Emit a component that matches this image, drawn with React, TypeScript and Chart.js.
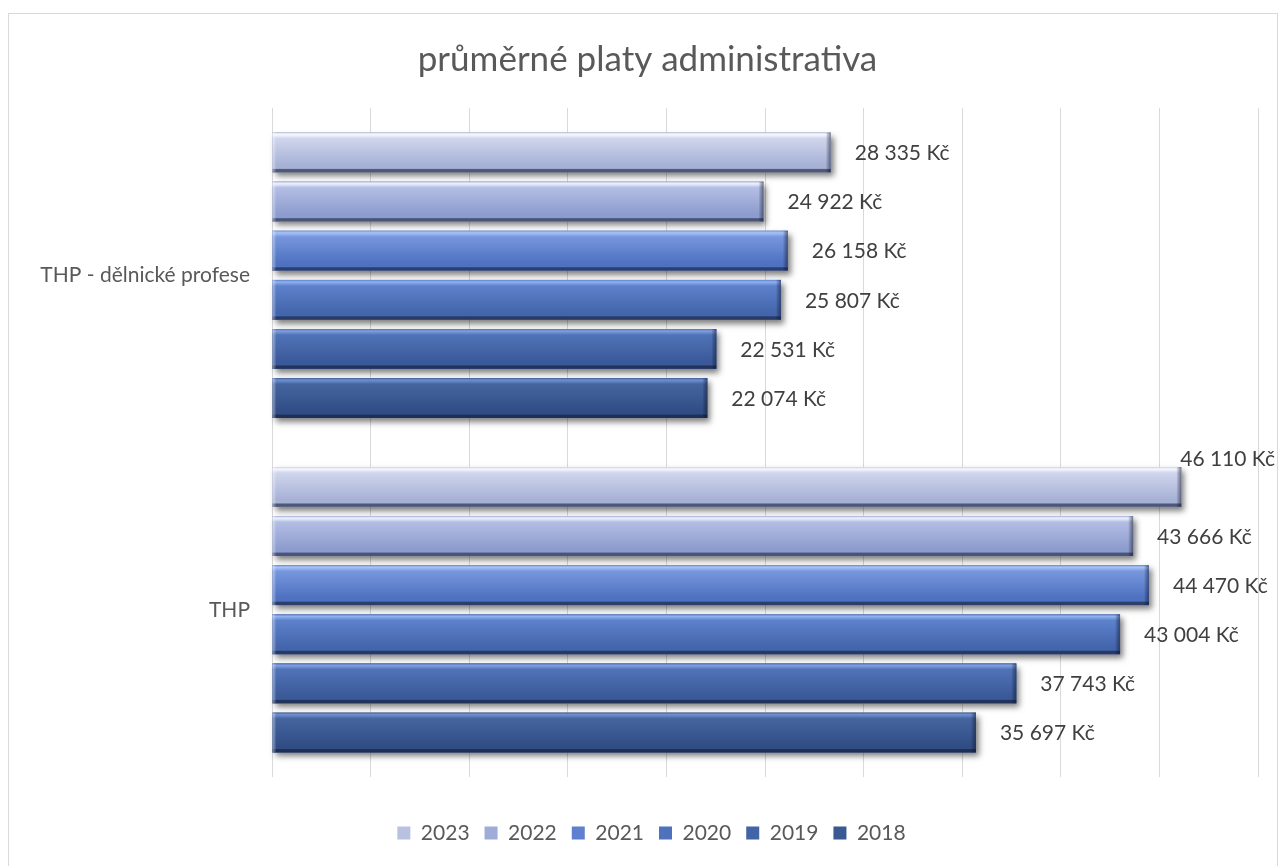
import React, { useEffect, useRef } from "react";
import { Chart, registerables } from "chart.js";

Chart.register(...registerables);

const categories = ["THP - dělnické profese", "THP"];
const years = ["2023", "2022", "2021", "2020", "2019", "2018"];
const v2023 = [28335, 46110];
const v2022 = [24922, 43666];
const v2021 = [26158, 44470];
const v2020 = [25807, 43004];
const v2019 = [22531, 37743];
const v2018 = [22074, 35697];
const seriesValues = [v2023, v2022, v2021, v2020, v2019, v2018];
const axisMax = 50000;
const axisStep = 5000;
const titleText = "průměrné platy administrativa";
const currency = "Kč";

const FONT = "Lato, 'Open Sans', sans-serif";

const styles = [
  { base: "#b9c1e0", hl: "#f6f8ff", top: "#cfd5ec", bot: "#a7b1d6", dark: "#4d5878" },
  { base: "#9fabd9", hl: "#eef2ff", top: "#b3bee4", bot: "#8d9cce", dark: "#48557a" },
  { base: "#5f80cf", hl: "#a9c3f7", top: "#7796dd", bot: "#4e71c0", dark: "#2b3e6d" },
  { base: "#4f72bd", hl: "#92b2f0", top: "#5d81cb", bot: "#4365ab", dark: "#273965" },
  { base: "#4364a6", hl: "#819fe0", top: "#5073b8", bot: "#3a5998", dark: "#22335b" },
  { base: "#3a5892", hl: "#7090d4", top: "#45659f", bot: "#314d86", dark: "#1e2e54" },
];

const fmt = (n: number) => String(n).replace(/\B(?=(\d{3})+(?!\d))/g, " ") + " " + currency;

const shiftPlugin = {
  id: "boxShift",
  afterLayout(chart: any) {
    if (chart.legend) {
      chart.legend.left += 18;
      chart.legend.right += 18;
    }
    if (chart.titleBlock) {
      chart.titleBlock.left += 14;
      chart.titleBlock.right += 14;
    }
  },
};

const bevelPlugin = {
  id: "bevel",
  beforeDatasetsDraw(chart: any) {
    const ctx = chart.ctx;
    ctx.save();
    chart.data.datasets.forEach((_ds: any, i: number) => {
      const meta = chart.getDatasetMeta(i);
      meta.data.forEach((el: any) => {
        const { x, y, base, height } = el.getProps(["x", "y", "base", "height"], true);
        ctx.shadowColor = "rgba(0,0,0,0.5)";
        ctx.shadowBlur = 6;
        ctx.shadowOffsetX = 3;
        ctx.shadowOffsetY = 4;
        ctx.fillStyle = "#777";
        ctx.fillRect(base, y - height / 2, x - base, height);
      });
    });
    ctx.restore();
  },
  afterDatasetsDraw(chart: any) {
    const ctx = chart.ctx;
    ctx.save();
    chart.data.datasets.forEach((ds: any, i: number) => {
      const s = styles[i];
      const meta = chart.getDatasetMeta(i);
      meta.data.forEach((el: any) => {
        const { x, y, base, height } = el.getProps(["x", "y", "base", "height"], true);
        const t = y - height / 2;
        const b = y + height / 2;
        const w = x - base;
        const g = ctx.createLinearGradient(0, t, 0, b);
        g.addColorStop(0, s.top);
        g.addColorStop(0.05, s.hl);
        g.addColorStop(0.15, s.top);
        g.addColorStop(0.82, s.bot);
        g.addColorStop(0.9, s.bot);
        g.addColorStop(0.93, s.dark);
        g.addColorStop(1, s.dark);
        ctx.fillStyle = g;
        ctx.fillRect(base, t, w, height);
        const gr = ctx.createLinearGradient(x - 5, 0, x, 0);
        gr.addColorStop(0, "rgba(0,0,0,0)");
        gr.addColorStop(1, "rgba(20,30,60,0.55)");
        ctx.fillStyle = gr;
        ctx.fillRect(x - 5, t, 5, height);
        const gl = ctx.createLinearGradient(base, 0, base + 4, 0);
        gl.addColorStop(0, "rgba(255,255,255,0.45)");
        gl.addColorStop(1, "rgba(255,255,255,0)");
        ctx.fillStyle = gl;
        ctx.fillRect(base, t, 4, height);
      });
    });
    ctx.font = `21px ${FONT}`;
    ctx.fillStyle = "#404040";
    ctx.textBaseline = "middle";
    ctx.textAlign = "left";
    chart.data.datasets.forEach((ds: any, i: number) => {
      const meta = chart.getDatasetMeta(i);
      meta.data.forEach((el: any, j: number) => {
        const { x, y, height } = el.getProps(["x", "y", "height"], true);
        const txt = fmt(ds.data[j]);
        const tw = ctx.measureText(txt).width;
        let lx = x + 24;
        let ly = y + 1;
        if (lx + tw > chart.width - 2) {
          lx = chart.width - 2 - tw;
          ly = y - height / 2 - 8;
        }
        ctx.fillText(txt, lx, ly);
      });
    });
    ctx.restore();
  },
};

export default function App() {
  const ref = useRef<HTMLCanvasElement | null>(null);
  useEffect(() => {
    if (!ref.current) return;
    const chart = new Chart(ref.current, {
      type: "bar",
      data: {
        labels: categories,
        datasets: years.map((yr, i) => ({
          label: yr,
          data: seriesValues[i],
          backgroundColor: styles[i].base,
          borderWidth: 0,
          categoryPercentage: 0.881,
          barPercentage: 0.81,
        })),
      },
      options: {
        indexAxis: "y",
        animation: false,
        responsive: false,
        layout: { padding: { left: 0, right: 19, top: 0, bottom: 12.5 } },
        scales: {
          x: {
            min: 0,
            max: axisMax,
            ticks: { display: false, stepSize: axisStep },
            grid: { color: "#d9d9d9", lineWidth: 1, drawTicks: false },
            border: { display: false },
            afterFit: (scale: any) => {
              scale.height = 30.5;
            },
          },
          y: {
            grid: { display: false, drawTicks: false },
            border: { display: false },
            ticks: { color: "#595959", font: { family: FONT, size: 21 }, padding: 22 },
            afterFit: (scale: any) => {
              scale.width = 263;
            },
          },
        },
        plugins: {
          title: {
            display: true,
            text: titleText,
            color: "#595959",
            font: { family: FONT, size: 35, weight: "normal" },
            padding: { top: 25, bottom: 27 },
          },
          legend: {
            position: "bottom",
            labels: {
              color: "#595959",
              font: { family: FONT, size: 21 },
              boxWidth: 13,
              boxHeight: 13,
              padding: 15,
            },
          },
          tooltip: { enabled: false },
        },
      },
      plugins: [bevelPlugin, shiftPlugin],
    } as any);
    return () => chart.destroy();
  }, []);
  return (
    <div
      style={{
        position: "fixed",
        left: 8,
        top: 13,
        width: 1270,
        height: 853,
        boxSizing: "border-box",
        borderTop: "1px solid #d9d9d9",
        borderLeft: "1px solid #d9d9d9",
        borderRight: "1px solid #d9d9d9",
        overflow: "hidden",
        background: "#fff",
      }}
    >
      <canvas ref={ref} width={1268} height={852} style={{ display: "block", width: 1268, height: 852 }} />
    </div>
  );
}
